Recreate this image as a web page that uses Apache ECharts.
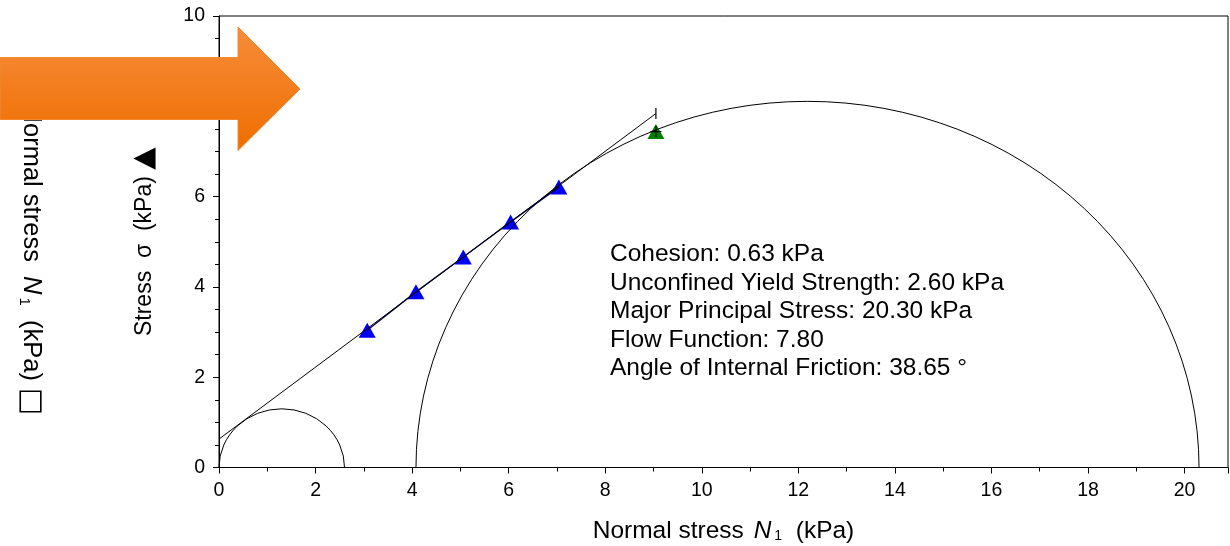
<!DOCTYPE html>
<html>
<head>
<meta charset="utf-8">
<style>
html,body{margin:0;padding:0;background:#fff;}
#chart{width:1230px;height:546px;}
</style>
<script src="https://cdn.jsdelivr.net/npm/echarts@6/dist/echarts.min.js"></script>
</head>
<body>
<div id="chart"></div>
<script>
// ---- data ----
const locusX = [3.07, 4.08, 5.06, 6.04, 7.04];
const locusY = [3.04, 3.89, 4.66, 5.44, 6.21];
const consolX = [9.05];
const consolY = [7.44];
const tangentX = [0, 9.05];
const tangentY = [0.63, 7.84];
// Mohr circles given by [minor principal stress, major principal stress]
const circleMinor = [0, 4.08];
const circleMajor = [2.60, 20.30];
const annotationLines = [
  'Cohesion: 0.63 kPa',
  'Unconfined Yield Strength: 2.60 kPa',
  'Major Principal Stress: 20.30 kPa',
  'Flow Function: 7.80',
  'Angle of Internal Friction: 38.65 °'
];
const xName = 'Normal stress {i|N}{s|1}  (kPa)';
const yName = 'Stress  σ  (kPa) {m|▲}';
const y2Name = 'Normal stress  {i2|N}{s2|1}  (kPa) {m|□}';

const FONT = '"Liberation Sans", Arial, sans-serif';
const chart = echarts.init(document.getElementById('chart'));

const nameRich = {
  i: {fontStyle: 'italic', fontSize: 24.5, fontFamily: FONT, color: '#000', padding: [0, 0, 0, 3]},
  s: {fontSize: 14, fontFamily: FONT, color: '#000', verticalAlign: 'bottom', padding: [0, 0, 0, 3]},
  i2: {fontStyle: 'italic', fontSize: 25.5, fontFamily: FONT, color: '#000'},
  s2: {fontSize: 15, fontFamily: FONT, color: '#000', verticalAlign: 'bottom', padding: [0, 0, 0, 3]},
  m: {fontSize: 29, fontFamily: '"DejaVu Sans", sans-serif', color: '#000'}
};

function circleItem(params, api) {
  const s2 = api.value(0), s1 = api.value(1);
  const c = (s1 + s2) / 2, r = (s1 - s2) / 2;
  const pL = api.coord([s2, 0]);
  const pR = api.coord([s1, 0]);
  const pT = api.coord([c, r]);
  const sz = api.size([r, r]);
  const rx = sz[0], ry = sz[1];
  const d = 'M' + pL[0] + ' ' + pL[1] +
    ' A' + rx + ' ' + ry + ' 0 0 1 ' + pT[0] + ' ' + pT[1] +
    ' A' + rx + ' ' + ry + ' 0 0 1 ' + pR[0] + ' ' + pR[1];
  return {
    type: 'path',
    shape: {pathData: d},
    style: {fill: 'none', stroke: '#000', lineWidth: 1}
  };
}

const option = {
  animation: false,
  backgroundColor: '#fff',
  grid: {left: 219, right: 2, top: 16, bottom: 78.5, show: true, borderColor: '#000', borderWidth: 1,
    outerBoundsMode: 'none', containLabel: false},
  xAxis: {
    type: 'value', min: 0, max: 20.9, interval: 2,
    splitLine: {show: false},
    axisLine: {lineStyle: {color: '#000', width: 1}},
    axisTick: {length: 6, lineStyle: {color: '#000'}},
    minorTick: {show: true, splitNumber: 2, length: 4, lineStyle: {color: '#000'}},
    axisLabel: {color: '#000', fontSize: 19.5, fontFamily: FONT, margin: 13, showMaxLabel: false,
      formatter: v => (v > 20.5 ? '' : v)},
    name: xName, nameLocation: 'middle', nameGap: 51,
    nameTextStyle: {color: '#000', fontSize: 24.5, fontFamily: FONT, rich: nameRich}
  },
  yAxis: {
    type: 'value', min: 0, max: 10, interval: 2,
    splitLine: {show: false},
    axisLine: {lineStyle: {color: '#000', width: 1}},
    axisTick: {length: 6, lineStyle: {color: '#000'}},
    minorTick: {show: true, splitNumber: 4, length: 4, lineStyle: {color: '#000'}},
    axisLabel: {color: '#000', fontSize: 19.5, fontFamily: FONT, margin: 14},
    name: yName, nameLocation: 'middle', nameGap: 60, nameRotate: 90,
    nameTextStyle: {color: '#000', fontSize: 23, fontFamily: FONT, rich: nameRich}
  },
  series: [
    {
      type: 'custom', name: 'circles',
      renderItem: circleItem,
      data: circleMinor.map((v, i) => [v, circleMajor[i]]),
      z: 3, silent: true
    },
    {
      type: 'scatter', name: 'locus',
      data: locusX.map((x, i) => [x, locusY[i]]),
      symbol: 'triangle', symbolSize: [17, 15],
      itemStyle: {color: '#0000ff', opacity: 1}, z: 2
    },
    {
      type: 'scatter', name: 'consolidation',
      data: consolX.map((x, i) => [x, consolY[i]]),
      symbol: 'triangle', symbolSize: [17, 15],
      itemStyle: {color: '#008000', opacity: 1}, z: 2
    },
    {
      type: 'line', name: 'locusLine',
      data: locusX.map((x, i) => [x, locusY[i]]),
      symbol: 'none', lineStyle: {color: '#000050', width: 1.3}, z: 4
    },
    {
      type: 'line', name: 'tangent',
      data: tangentX.map((x, i) => [x, tangentY[i]]),
      symbol: 'none', lineStyle: {color: '#000', width: 1}, z: 5
    },
    {
      type: 'scatter', name: 'tangentEnd',
      data: [[tangentX[1], tangentY[1]]],
      symbol: 'rect', symbolSize: [1.2, 11],
      itemStyle: {color: '#000', opacity: 1}, z: 6
    },
    {
      type: 'scatter', name: 'consolCross',
      data: consolX.map((x, i) => [x, consolY[i]]),
      symbol: 'path://M4.5,0h1v4.5h4.5v1h-4.5v4.5h-1v-4.5h-4.5v-1h4.5z', symbolSize: 11,
      itemStyle: {color: '#000', opacity: 1}, z: 6
    }
  ],
  graphic: [
    {
      type: 'text', left: 610, top: 240, z: 10,
      style: {
        text: annotationLines.join('\n'),
        fontSize: 24.5, fontFamily: FONT, fill: '#000', lineHeight: 28.5
      }
    },
    {
      type: 'text', x: 31, y: 260, rotation: -Math.PI / 2, z: 10,
      style: {
        text: y2Name, fontSize: 25.5, fontFamily: FONT, fill: '#000',
        align: 'center', verticalAlign: 'middle',
        rich: nameRich
      }
    },
    {
      type: 'polygon', z: 100,
      shape: {points: [[0, 57.5], [238, 57.5], [238, 27], [300, 89], [238, 150.5], [238, 119.5], [0, 119.5]]},
      style: {
        fill: new echarts.graphic.LinearGradient(0, 0, 0, 1, [
          {offset: 0, color: '#f78c3a'},
          {offset: 1, color: '#ee6e00'}
        ]),
        stroke: '#f28a30', lineWidth: 1
      }
    }
  ]
};
chart.setOption(option);
</script>
</body>
</html>
